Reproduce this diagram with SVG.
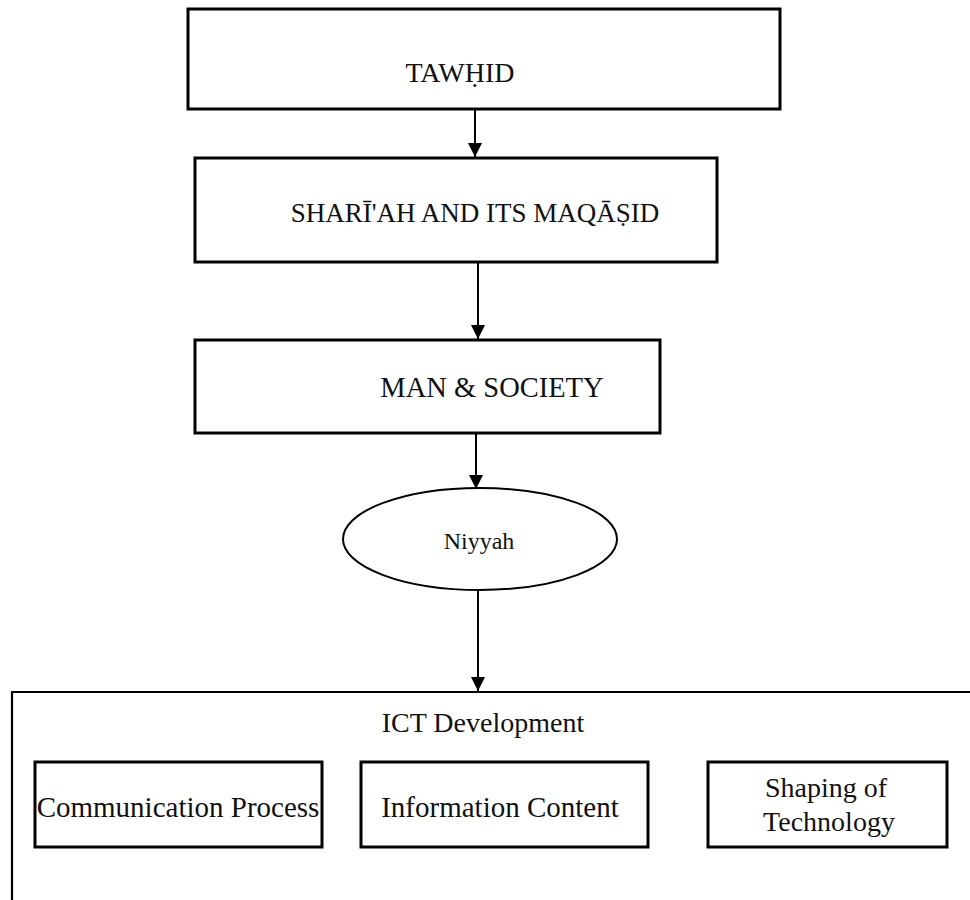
<svg xmlns="http://www.w3.org/2000/svg" width="970" height="900" viewBox="0 0 970 900">
  <style>
    .box { fill: #fff; stroke: #000; stroke-width: 3; }
    .frame { fill: none; stroke: #000; stroke-width: 2.2; }
    .oval { fill: #fff; stroke: #000; stroke-width: 2; }
    .lbl { font-family: "Liberation Serif", "Times New Roman", serif; font-size: 28px; fill: #111; text-anchor: middle; }
    .link { stroke: #000; stroke-width: 2; fill: none; marker-end: url(#head); }
  </style>
  <defs>
    <marker id="head" viewBox="0 0 14 14" refX="14" refY="7" markerWidth="14" markerHeight="14" markerUnits="userSpaceOnUse" orient="auto">
      <path d="M0,0 L14,7 L0,14 Z" fill="#000"/>
    </marker>
  </defs>

  <g id="tawhid">
    <rect class="box" x="188" y="9" width="592" height="100"/>
    <text class="lbl" x="460" y="82">TAWḤID</text>
  </g>

  <g id="shariah">
    <rect class="box" x="195" y="158" width="522" height="104"/>
    <text class="lbl" x="475" y="222" style="font-size:27px">SHARĪ'AH AND ITS MAQĀṢID</text>
  </g>

  <g id="man-society">
    <rect class="box" x="195" y="340" width="465" height="93"/>
    <text class="lbl" x="492" y="397" style="font-size:28.5px">MAN &amp; SOCIETY</text>
  </g>

  <g id="niyyah">
    <ellipse class="oval" cx="480" cy="539" rx="137" ry="51"/>
    <text class="lbl" x="479" y="549" style="font-size:24px">Niyyah</text>
  </g>

  <g id="ict-development">
    <path class="frame" d="M12,900 V692 H972"/>
    <text class="lbl" x="483" y="732">ICT Development</text>
  </g>

  <g id="communication-process">
    <rect class="box" x="35" y="762" width="287" height="85"/>
    <text class="lbl" x="178" y="817" style="font-size:29px">Communication Process</text>
  </g>

  <g id="information-content">
    <rect class="box" x="361" y="762" width="287" height="85"/>
    <text class="lbl" x="500" y="817" style="font-size:29px">Information Content</text>
  </g>

  <g id="shaping-of-technology">
    <rect class="box" x="708" y="762" width="239" height="85"/>
    <text class="lbl" x="826" y="797">Shaping of</text>
    <text class="lbl" x="829" y="831">Technology</text>
  </g>

  <g id="connectors">
    <line class="link" x1="475" y1="110" x2="475" y2="157"/>
    <line class="link" x1="478" y1="263" x2="478" y2="339"/>
    <line class="link" x1="476" y1="434" x2="476" y2="489"/>
    <line class="link" x1="478" y1="590" x2="478" y2="691"/>
  </g>
</svg>
